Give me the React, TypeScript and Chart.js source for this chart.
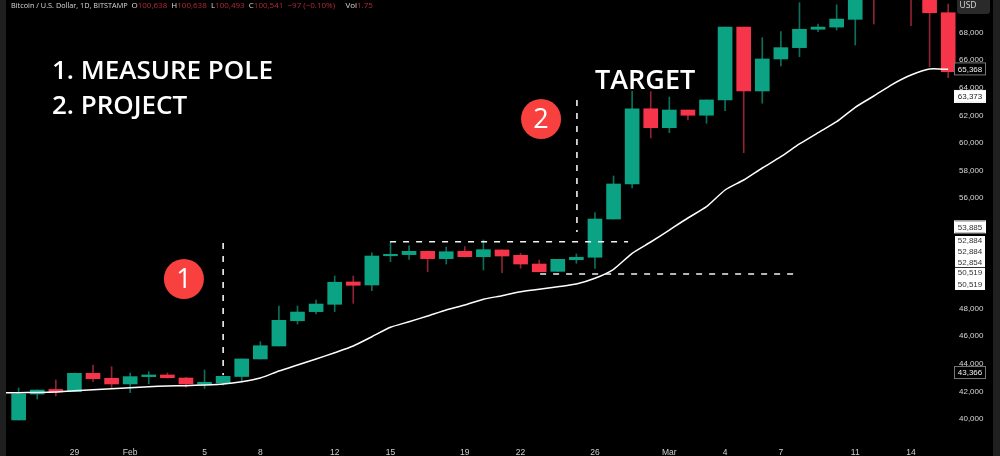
import React, { useEffect, useRef } from "react";
import { Chart, registerables } from "chart.js";

Chart.register(...registerables);

const opens = [39930,41810,42140,41980,43310,42950,42540,43070,43190,42970,42510,42610,43080,44350,45290,47120,47780,48310,49930,49710,51830,51910,52150,51620,52150,51760,52250,51860,51230,50700,51540,51720,54490,57030,62480,61110,62390,62010,63120,68400,63770,66090,66910,68240,68400,68960,72000,72500,72000,71000,69440];
const closes = [41810,42100,41960,43310,42920,42540,43070,43190,42990,42540,42660,43090,44350,45310,47150,47750,48330,49910,49690,51810,51930,52150,51620,52120,51760,52270,51810,51230,50670,51570,51720,54490,57030,62480,61110,62390,62010,63120,68400,63770,66090,66910,68240,68400,68980,71000,70800,71500,70900,69440,65170];
const highs = [42250,42100,42830,43330,43910,43790,43330,43430,43330,43020,43550,43120,44350,45600,48190,48190,48620,50360,50360,52050,52850,52540,52170,52460,52490,52970,52250,52010,51520,51570,51960,54950,57610,63770,63720,63330,62390,63120,68400,68400,67630,68070,70170,68620,70020,71500,72500,73000,72500,71800,70070];
const lows = [39930,41450,41670,41980,42700,42270,41910,42540,42970,42300,42220,42460,42780,44350,45290,46880,47610,47780,48380,49300,51400,51570,50670,51230,51740,50800,50600,50920,50670,50700,51280,50920,54490,56740,60360,60750,61670,61430,62340,59300,62880,65580,66250,68070,68190,67100,68620,70800,68500,65530,64730];
const maStartIndex = -0.68;
const maValues = [41906,41906,41920,41956,42051,42123,42196,42268,42340,42391,42413,42464,42536,42703,42971,43478,43913,44348,44804,45290,45963,46645,47050,47463,47898,48260,48674,48934,49224,49398,49586,49782,50195,50847,52007,52826,53695,54565,55383,56594,57319,58188,59006,59928,60745,61543,62587,63405,64253,64926,65361,65339];
const yTicks = [40000,42000,44000,46000,48000,50000,52000,54000,56000,58000,60000,62000,64000,66000,68000];
const xTickIndex = [3,6,10,13,17,20,24,27,31,35,38,41,45,48];
const xTickText = ["29","Feb","5","8","12","15","19","22","26","Mar","4","7","11","14"];
const headerParts: [string, boolean][] = [["Bitcoin / U.S. Dollar, 1D, BITSTAMP  ",false],["O",false],["100,638  ",true],["H",false],["100,638  ",true],["L",false],["100,493  ",true],["C",false],["100,541  ",true],["−97 (−0.10%)     ",true],["Vol",false],["1.75",true]];
const poles = [{ i: 11, a: 52750, b: 43190 }, { i: 30.03, a: 63115, b: 53550 }];
const levels = [{ a: 19.98, b: 32.78, p: 52847 }, { a: 28.05, b: 42.03, p: 50507 }];
const badges = [{ i: 8.89, p: 50145, t: "1" }, { i: 28.1, p: 61738, t: "2" }];
const outlinePrices = [43366, 65368];
const whitePrice = 63373;
const stackTop = 53885;
const stackA = ["52,884","52,884","52,854"];
const stackB = ["50,519","50,519"];

const UP = "#0ba384";
const DOWN = "#f7354a";
const UP_WICK = "#0c6f5c";
const DOWN_WICK = "#8f2333";
const FONT = "'Open Sans', sans-serif";
const AXIS_FONT = "'Liberation Sans', sans-serif";
const fmt = (v: number) => v.toLocaleString("en-US");

const overlay = {
  id: "overlay",
  beforeDraw(c: any) {
    const g = c.ctx;
    g.save();
    g.fillStyle = "#000";
    g.fillRect(0, 0, 1000, 456);
    g.fillStyle = "#1f1f1f";
    g.fillRect(0, 0, 6, 456);
    g.fillRect(993, 0, 7, 456);
    g.restore();
  },
  afterDraw(c: any) {
    const g = c.ctx;
    const X = c.scales.x;
    const Y = c.scales.y;
    g.save();
    // dashed measurement lines
    g.strokeStyle = "#f2f2f2";
    g.lineWidth = 1.6;
    g.setLineDash([6, 7]);
    poles.forEach((l) => {
      g.beginPath();
      g.moveTo(X.getPixelForValue(l.i), Y.getPixelForValue(l.a));
      g.lineTo(X.getPixelForValue(l.i), Y.getPixelForValue(l.b));
      g.stroke();
    });
    levels.forEach((l) => {
      g.beginPath();
      g.moveTo(X.getPixelForValue(l.a), Y.getPixelForValue(l.p));
      g.lineTo(X.getPixelForValue(l.b), Y.getPixelForValue(l.p));
      g.stroke();
    });
    g.setLineDash([]);
    // numbered badges
    badges.forEach((b) => {
      const x = X.getPixelForValue(b.i);
      const y = Y.getPixelForValue(b.p);
      g.fillStyle = "#f8403f";
      g.beginPath();
      g.arc(x, y, 20, 0, Math.PI * 2);
      g.fill();
      g.fillStyle = "#fff";
      g.font = `400 27px ${FONT}`;
      g.textAlign = "center";
      g.textBaseline = "middle";
      g.fillText(b.t, x, y + 1);
    });
    // headline text
    g.fillStyle = "#fff";
    g.textAlign = "left";
    g.textBaseline = "middle";
    g.font = `600 26px ${FONT}`;
    g.fillText("1. MEASURE POLE", 52, 72);
    g.fillText("2. PROJECT", 52, 107);
    g.font = `600 27px ${FONT}`;
    g.fillText("TARGET", 595, 81);
    // legend row
    let hx = 11;
    headerParts.forEach(([t, red], k) => {
      g.font = `${k === 0 ? 7.3 : 8}px ${FONT}`;
      g.fillStyle = red ? "#b32a3a" : "#d8d8d8";
      g.fillText(t, hx, 6);
      hx += g.measureText(t).width;
    });
    // USD button
    g.fillStyle = "#2a2a2a";
    g.beginPath();
    g.roundRect(957, -4, 33, 18, 3);
    g.fill();
    g.fillStyle = "#ddd";
    g.font = `8.5px ${FONT}`;
    g.textAlign = "center";
    g.fillText("USD", 968, 6);
    // price tags
    g.font = `8px ${AXIS_FONT}`;
    const tag = (text: string, y: number, bg: string, border: string, fg: string) => {
      g.fillStyle = bg;
      g.fillRect(955, y - 5.5, 30, 11);
      g.strokeStyle = border;
      g.lineWidth = 1;
      g.strokeRect(954.5, y - 6, 31, 12);
      g.fillStyle = fg;
      g.fillText(text, 970, y + 0.5);
    };
    outlinePrices.forEach((p) => tag(fmt(p), Y.getPixelForValue(p), "#000", "#777", "#eee"));
    tag(fmt(whitePrice), Y.getPixelForValue(whitePrice), "#fff", "#fff", "#222");
    tag(fmt(stackTop), Y.getPixelForValue(stackTop) - 0.5, "#fff", "#fff", "#333");
    g.fillStyle = "#fff";
    g.fillRect(955, 236, 30, 54);
    g.fillStyle = "#333";
    stackA.forEach((t, k) => g.fillText(t, 970, 241 + k * 10.7));
    stackB.forEach((t, k) => g.fillText(t, 970, 273 + k * 11.5));
    g.fillRect(955, 267, 30, 1);
    g.restore();
  },
};

export default function App() {
  const ref = useRef<HTMLCanvasElement>(null);
  useEffect(() => {
    const pts = opens.map((o, i) => ({ i, o, c: closes[i], up: closes[i] >= o }));
    const chart = new Chart(ref.current as HTMLCanvasElement, {
      type: "bar",
      data: {
        datasets: [
          {
            type: "bar",
            data: pts.map((p) => ({ x: p.i, y: [lows[p.i], highs[p.i]] })),
            backgroundColor: pts.map((p) => (p.up ? UP_WICK : DOWN_WICK)),
            barThickness: 1,
            grouped: false,
            order: 3,
          },
          {
            type: "bar",
            data: pts.map((p) => ({ x: p.i, y: [p.o, p.c] })),
            backgroundColor: pts.map((p) => (p.up ? UP : DOWN)),
            barThickness: 14,
            grouped: false,
            order: 2,
          },
          {
            type: "line",
            data: maValues.map((v, k) => ({ x: k === 0 ? maStartIndex : k - 1, y: v })),
            borderColor: "#fff",
            borderWidth: 1.5,
            pointRadius: 0,
            tension: 0.2,
            order: 1,
          },
        ],
      } as any,
      options: {
        responsive: false,
        animation: false,
        devicePixelRatio: 1,
        layout: { padding: { left: 6, right: 0, top: 0, bottom: 0 } },
        plugins: { legend: { display: false }, tooltip: { enabled: false } },
        scales: {
          x: {
            type: "linear",
            offset: false,
            min: -0.68,
            max: 50.42,
            grid: { display: false },
            border: { display: false },
            afterBuildTicks: (s: any) => { s.ticks = xTickIndex.map((value) => ({ value })); },
            afterFit: (s: any) => { s.height = 18; s.paddingLeft = 0; s.paddingRight = 0; },
            ticks: {
              autoSkip: false,
              maxRotation: 0,
              padding: 2,
              color: "#d0d0d0",
              font: { family: AXIS_FONT, size: 8.5 },
              callback: (v: any) => xTickText[xTickIndex.indexOf(v)] ?? "",
            },
          },
          y: {
            type: "linear",
            position: "right",
            min: 38623,
            max: 70362,
            grid: { display: false, drawTicks: false },
            border: { display: false },
            afterBuildTicks: (s: any) => { s.ticks = yTicks.map((value) => ({ value })); },
            afterFit: (s: any) => { s.width = 44; s.paddingTop = 0; s.paddingBottom = 0; },
            ticks: {
              autoSkip: false,
              padding: 3,
              color: "#d8d8d8",
              font: { family: AXIS_FONT, size: 8 },
              callback: (v: any) => fmt(Number(v)),
            },
          },
        },
      },
      plugins: [overlay],
    } as any);
    return () => chart.destroy();
  }, []);
  return (
    <div style={{ position: "fixed", left: 0, top: 0, width: 1000, height: 456, background: "#000" }}>
      <canvas ref={ref} width={1000} height={456} style={{ display: "block", width: 1000, height: 456 }} />
    </div>
  );
}
